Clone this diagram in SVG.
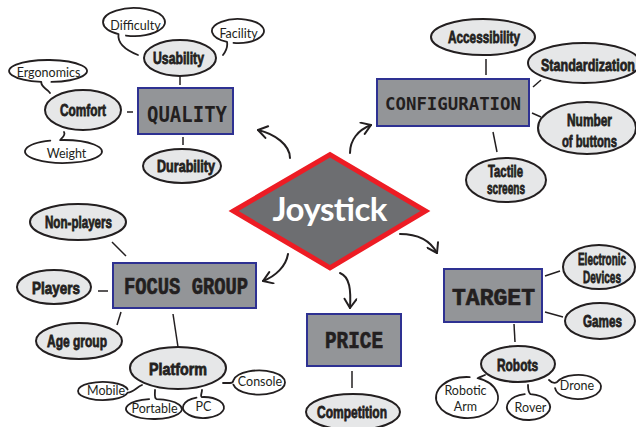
<svg xmlns="http://www.w3.org/2000/svg" width="636" height="427" viewBox="0 0 636 427">
<defs>
<style>
.box{fill:#939598;stroke:#2e3192;stroke-width:2}
.ell{fill:#e6e7e8;stroke:#231f20;stroke-width:2}
.bub{fill:none;stroke:#231f20;stroke-width:1.8;stroke-linecap:round;stroke-linejoin:round}
.bubf{fill:#ffffff;stroke:none}
.ln{stroke:#231f20;stroke-width:1.5;fill:none}
.arr{stroke:#231f20;stroke-width:2;fill:none;stroke-linecap:round}
.et{font-family:"Liberation Sans Narrow","Liberation Sans",sans-serif;font-weight:bold;font-size:17px;fill:#231f20;stroke:#231f20;stroke-width:0.8;text-anchor:middle}
.bt{font-family:Lato,"Noto Sans",sans-serif;font-size:12.5px;fill:#231f20;text-anchor:middle}
.ht{font-family:"DejaVu Sans Mono",monospace;font-weight:bold;fill:#231f20;text-anchor:middle}
.st{font-family:"Liberation Mono",monospace;font-weight:bold;fill:#231f20;stroke:#231f20;stroke-width:0.7;text-anchor:middle}
</style>
<marker id="ah" viewBox="-11 -7 13 14" refX="0" refY="0" markerWidth="13" markerHeight="14" markerUnits="userSpaceOnUse" orient="auto">
<path d="M -9 -6 L 0 0 L -9 6" fill="none" stroke="#231f20" stroke-width="2" stroke-linecap="round" stroke-linejoin="round"/>
</marker>
</defs>
<rect width="636" height="427" fill="#ffffff"/>

<g id="connectors">
<path class="arr" d="M 290 158 C 290 145 275 134 258 130" marker-end="url(#ah)"/>
<path class="arr" d="M 350 153 C 350 140 358 130 371 125" marker-end="url(#ah)"/>
<path class="arr" d="M 288 254 C 286 266 276 276 263 281" marker-end="url(#ah)"/>
<path class="arr" d="M 340 273 C 350 277 351 290 350 308" marker-end="url(#ah)"/>
<path class="arr" d="M 400 234 C 417 234 430 240 437 253" marker-end="url(#ah)"/>
<line class="ln" x1="180" y1="77" x2="180" y2="85"/>
<line class="ln" x1="127" y1="112" x2="133" y2="112"/>
<line class="ln" x1="183" y1="137" x2="183" y2="145"/>
<line class="ln" x1="486" y1="59" x2="486" y2="75"/>
<line class="ln" x1="533" y1="87" x2="541" y2="80"/>
<line class="ln" x1="532" y1="113" x2="541" y2="117"/>
<line class="ln" x1="493" y1="132" x2="497" y2="152"/>
<line class="ln" x1="112" y1="242" x2="126" y2="256"/>
<line class="ln" x1="98" y1="291" x2="108" y2="291"/>
<line class="ln" x1="121" y1="312" x2="117" y2="325"/>
<line class="ln" x1="173" y1="314" x2="178" y2="347"/>
<line class="ln" x1="352" y1="371" x2="352" y2="388"/>
<line class="ln" x1="545" y1="276" x2="560" y2="271"/>
<line class="ln" x1="545" y1="312" x2="563" y2="317"/>
<line class="ln" x1="514" y1="324" x2="515" y2="342"/>
</g>

<g id="joystick">
<polygon points="233.5,211 330,154.6 425.5,211 330,267.8" fill="#6d6e71" stroke="#ed1c24" stroke-width="5" stroke-linejoin="miter"/>
<text x="330" y="221" font-family="Lato,'Noto Sans',sans-serif" font-weight="bold" font-size="33" fill="#ffffff" text-anchor="middle" textLength="115">Joystick</text>
</g>

<g id="quality">
<rect class="box" x="138" y="88" width="95" height="46"/>
<text class="ht" x="187" y="122" font-size="21" textLength="80" lengthAdjust="spacingAndGlyphs">QUALITY</text>
</g>
<g id="usability">
<ellipse class="ell" cx="180" cy="58" rx="36" ry="18"/>
<text class="et" x="178.5" y="64" textLength="51" lengthAdjust="spacingAndGlyphs">Usability</text>
</g>
<g id="comfort">
<ellipse class="ell" cx="83" cy="110" rx="38" ry="20"/>
<text class="et" x="83" y="116" textLength="46" lengthAdjust="spacingAndGlyphs">Comfort</text>
</g>
<g id="durability">
<ellipse class="ell" cx="182" cy="166" rx="39" ry="17"/>
<text class="et" x="186" y="172" textLength="58" lengthAdjust="spacingAndGlyphs">Durability</text>
</g>
<g id="difficulty">
<ellipse class="bubf" cx="134" cy="22" rx="31" ry="14"/>
<path class="bub" d="M 138 55 C 128 51 117 45 118.5 34.12 A 31 14 0 1 1 125.98 35.52"/>
<text class="bt" x="135.5" y="30">Difficulty</text>
</g>
<g id="facility">
<ellipse class="bubf" cx="238" cy="31" rx="26" ry="12"/>
<path class="bub" d="M 223 55 C 226 51 228 47 227.01 41.88 A 26 12 0 1 1 233.49 42.82"/>
<text class="bt" x="238.5" y="38">Facility</text>
</g>
<g id="ergonomics">
<ellipse class="bubf" cx="48" cy="71" rx="39" ry="11"/>
<path class="bub" d="M 50 93 C 47 88 41 88 41.23 81.83 A 39 11 0 1 1 51.4 81.96"/>
<text class="bt" x="48.5" y="77">Ergonomics</text>
</g>
<g id="weight">
<ellipse class="bubf" cx="63.5" cy="151.5" rx="38.5" ry="11.5"/>
<path class="bub" d="M 64 132 C 66 135 62 138 60.14 140.04 A 38.5 11.5 0 1 1 50.33 140.69"/>
<text class="bt" x="66.5" y="158">Weight</text>
</g>

<g id="configuration">
<rect class="box" x="377" y="79" width="152" height="47"/>
<text class="ht" x="453" y="110" font-size="18" textLength="136" lengthAdjust="spacingAndGlyphs">CONFIGURATION</text>
</g>
<g id="accessibility">
<ellipse class="ell" cx="483" cy="37" rx="52" ry="18"/>
<text class="et" x="484" y="43" textLength="72" lengthAdjust="spacingAndGlyphs">Accessibility</text>
</g>
<g id="standardization">
<ellipse class="ell" cx="584" cy="63" rx="56" ry="20"/>
<text class="et" x="588" y="71" textLength="94" lengthAdjust="spacingAndGlyphs">Standardization</text>
</g>
<g id="numberofbuttons">
<ellipse class="ell" cx="587" cy="128" rx="49" ry="26"/>
<text class="et" x="589.5" y="126" textLength="45" lengthAdjust="spacingAndGlyphs">Number</text>
<text class="et" x="589.5" y="147" textLength="55" lengthAdjust="spacingAndGlyphs">of buttons</text>
</g>
<g id="tactilescreens">
<ellipse class="ell" cx="506" cy="180" rx="40" ry="22"/>
<text class="et" x="505.5" y="177" font-size="14" textLength="35" lengthAdjust="spacingAndGlyphs">Tactile</text>
<text class="et" x="506" y="194" font-size="14" textLength="38" lengthAdjust="spacingAndGlyphs">screens</text>
</g>

<g id="focusgroup">
<rect class="box" x="113" y="263" width="143" height="45"/>
<text class="st" x="186" y="294" font-size="23" textLength="124" lengthAdjust="spacingAndGlyphs">FOCUS GROUP</text>
</g>
<g id="nonplayers">
<ellipse class="ell" cx="78" cy="222" rx="48" ry="18"/>
<text class="et" x="78.5" y="228" textLength="67" lengthAdjust="spacingAndGlyphs">Non-players</text>
</g>
<g id="players">
<ellipse class="ell" cx="54" cy="287" rx="37" ry="17"/>
<text class="et" x="56" y="294" textLength="48" lengthAdjust="spacingAndGlyphs">Players</text>
</g>
<g id="agegroup">
<ellipse class="ell" cx="79" cy="341" rx="43" ry="18"/>
<text class="et" x="77" y="347" textLength="60" lengthAdjust="spacingAndGlyphs">Age group</text>
</g>
<g id="platform">
<ellipse class="ell" cx="178" cy="368" rx="48" ry="21"/>
<text class="et" x="178" y="375" textLength="58" lengthAdjust="spacingAndGlyphs">Platform</text>
</g>
<g id="mobile">
<ellipse class="bubf" cx="103" cy="391" rx="25" ry="9"/>
<path class="bub" d="M 142 385 C 137 387 132 393 127.62 392.56 A 25 9 0 1 1 127.62 389.44"/>
<text class="bt" x="106" y="395">Mobile</text>
</g>
<g id="portable">
<ellipse class="bubf" cx="154" cy="409" rx="28" ry="10"/>
<path class="bub" d="M 155 390 C 155 394 154 398 156.44 399.04 A 28 10 0 1 1 149.14 399.15"/>
<text class="bt" x="154.5" y="413">Portable</text>
</g>
<g id="pc">
<ellipse class="bubf" cx="203.5" cy="407.5" rx="20.5" ry="10.5"/>
<path class="bub" d="M 202 390 C 202 393 200 396 201.71 397.04 A 20.5 10.5 0 1 1 196.49 397.63"/>
<text class="bt" x="203.5" y="411">PC</text>
</g>
<g id="console">
<ellipse class="bubf" cx="259" cy="382.5" rx="26" ry="12"/>
<path class="bub" d="M 223 383 L 230 383 C 232 383 233 382 233.4 380.42 A 26 12 0 1 1 233.4 384.58"/>
<text class="bt" x="260" y="386">Console</text>
</g>

<g id="price">
<rect class="box" x="307" y="314" width="94" height="52"/>
<text class="st" x="354" y="348" font-size="24" textLength="58" lengthAdjust="spacingAndGlyphs">PRICE</text>
</g>
<g id="competition">
<ellipse class="ell" cx="353" cy="412" rx="47" ry="18"/>
<text class="et" x="352" y="418" textLength="70" lengthAdjust="spacingAndGlyphs">Competition</text>
</g>

<g id="target">
<rect class="box" x="444" y="269" width="98" height="53"/>
<text class="st" x="493.5" y="305" font-size="24" textLength="83" lengthAdjust="spacingAndGlyphs">TARGET</text>
</g>
<g id="electronicdevices">
<ellipse class="ell" cx="599" cy="267" rx="36" ry="22"/>
<text class="et" x="602" y="265" font-size="14" textLength="48" lengthAdjust="spacingAndGlyphs">Electronic</text>
<text class="et" x="602" y="283" font-size="14" textLength="38" lengthAdjust="spacingAndGlyphs">Devices</text>
</g>
<g id="games">
<ellipse class="ell" cx="600" cy="321" rx="35" ry="18"/>
<text class="et" x="602.5" y="327" textLength="39" lengthAdjust="spacingAndGlyphs">Games</text>
</g>
<g id="robots">
<ellipse class="ell" cx="518" cy="364" rx="37" ry="18"/>
<text class="et" x="517.5" y="371" textLength="41" lengthAdjust="spacingAndGlyphs">Robots</text>
</g>
<g id="roboticarm">
<ellipse class="bubf" cx="467" cy="397.5" rx="31" ry="20.5"/>
<path class="bub" d="M 485 375 C 483 376 480 377 477.6 378.24 A 31 20.5 0 1 1 469.7 377.08"/>
<text class="bt" x="465.5" y="395">Robotic</text>
<text class="bt" x="465.5" y="411">Arm</text>
</g>
<g id="rover">
<ellipse class="bubf" cx="528.5" cy="407" rx="21.5" ry="13"/>
<path class="bub" d="M 528 385 C 528 389 528 392 530.37 394.05 A 21.5 13 0 1 1 524.77 394.2"/>
<text class="bt" x="530.5" y="412">Rover</text>
</g>
<g id="drone">
<ellipse class="bubf" cx="578" cy="387" rx="23" ry="12"/>
<path class="bub" d="M 549 380 C 551 382 554 384 557.15 381.93 A 23 12 0 1 1 555.09 388.05"/>
<text class="bt" x="577" y="390">Drone</text>
</g>
</svg>
